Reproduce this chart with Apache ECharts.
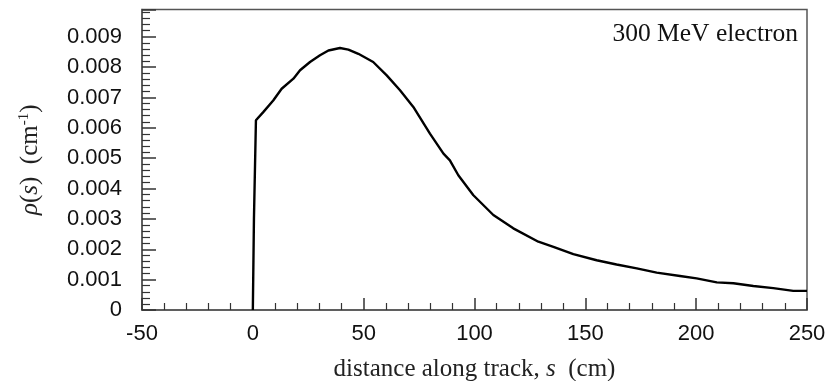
<!DOCTYPE html>
<html><head><meta charset="utf-8">
<script src="https://cdn.jsdelivr.net/npm/echarts@6/dist/echarts.min.js"></script>
<style>html,body{margin:0;padding:0;background:#fff}#c{width:840px;height:381px}</style>
</head><body><div id="c"></div>
<script>
const sValues = [0, 0.5, 1.4, 4.7, 9.2, 13.0, 18.3, 21.3, 25.8, 30.3, 34.1, 39.3, 43.1, 47.6, 54.3, 60.4, 66.4, 72.4, 79.9, 86.0, 88.9, 92.7, 99.5, 108.5, 117.5, 128.8, 135.6, 144.6, 155.1, 164.1, 173.2, 182.2, 192.7, 200.2, 209.3, 216.8, 225.8, 234.8, 243.8, 250];
const rhoValues = [0, 0.0030, 0.00625, 0.00652, 0.0069, 0.00729, 0.00762, 0.0079, 0.00817, 0.00839, 0.00855, 0.00863, 0.00858, 0.00844, 0.00817, 0.00773, 0.00724, 0.00669, 0.00581, 0.00515, 0.00493, 0.00444, 0.00378, 0.00313, 0.00269, 0.00225, 0.00208, 0.00184, 0.00164, 0.0015, 0.00137, 0.00123, 0.00112, 0.00104, 0.00091, 0.00088, 0.00079, 0.00072, 0.00063, 0.00063];
const xTicks = [-50, 0, 50, 100, 150, 200, 250];
const yTicks = [0, 0.001, 0.002, 0.003, 0.004, 0.005, 0.006, 0.007, 0.008, 0.009];
const labelText = '300 MeV electron';

const chart = echarts.init(document.getElementById('c'), null, {renderer: 'canvas'});
const axisCol = '#555';
chart.setOption({
  animation: false,
  backgroundColor: '#fff',
  grid: {left: 142, right: 33, top: 9.5, bottom: 71, outerBoundsMode: 'none', containLabel: false, show: true, borderColor: axisCol, borderWidth: 1.5, backgroundColor: 'transparent'},
  title: {text: labelText, right: 37, top: 16, textStyle: {fontFamily: 'Liberation Serif', fontWeight: 'normal', fontSize: 25.5, color: '#111'}},
  xAxis: {
    type: 'value', min: xTicks[0], max: xTicks[xTicks.length - 1], interval: 50,
    axisLine: {show: true, onZero: false, lineStyle: {color: axisCol, width: 1.5}},
    axisTick: {show: true, inside: true, length: 12, lineStyle: {color: '#333', width: 1.5}},
    minorTick: {show: true, splitNumber: 5, length: 7, lineStyle: {color: '#333', width: 1.2}},
    splitLine: {show: false},
    axisLabel: {fontFamily: 'Liberation Sans', fontSize: 22, color: '#111', margin: 13},
    name: '{a|distance along track, }{i|s}{a|  (cm)}', nameLocation: 'middle', nameGap: 47,
    nameTextStyle: {rich: {a: {fontFamily: 'Liberation Serif', fontSize: 25, color: '#222'}, i: {fontFamily: 'Liberation Serif', fontStyle: 'italic', fontSize: 25, color: '#222'}}}
  },
  yAxis: {
    type: 'value', min: 0, max: 0.0099, interval: 0.001,
    axisLine: {show: true, onZero: false, lineStyle: {color: axisCol, width: 1.5}},
    axisTick: {show: true, inside: true, length: 14, lineStyle: {color: '#333', width: 1.5}},
    minorTick: {show: true, splitNumber: 5, length: 8, lineStyle: {color: '#333', width: 1.2}},
    splitLine: {show: false},
    axisLabel: {fontFamily: 'Liberation Sans', fontSize: 22, color: '#111', margin: 20,
      formatter: function (v) { if (v > 0.0095) return ''; return v === 0 ? '0' : v.toFixed(3); }},
    name: '{i|ρ}{a|(}{i|s}{a|)  (cm}{s|-1}{a|)}', nameLocation: 'middle', nameGap: 98, nameRotate: 90,
    nameTextStyle: {rich: {a: {fontFamily: 'Liberation Serif', fontSize: 25, color: '#222'}, i: {fontFamily: 'Liberation Serif', fontStyle: 'italic', fontSize: 25, color: '#222'}, s: {fontFamily: 'Liberation Serif', fontSize: 15, color: '#222', verticalAlign: 'top', padding: [0, 0, 12, 0]}}}
  },
  series: [{
    type: 'line', data: sValues.map((s, i) => [s, rhoValues[i]]), showSymbol: false, smooth: false,
    lineStyle: {color: '#000', width: 2.4}, clip: true
  }]
});
</script></body></html>
